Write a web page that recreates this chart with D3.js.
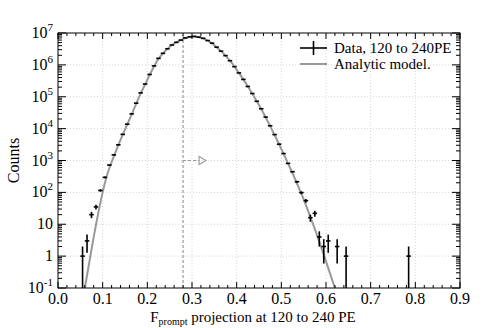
<!DOCTYPE html>
<html>
<head>
<meta charset="utf-8">
<script src="https://cdn.jsdelivr.net/npm/d3@7"></script>
<style>
  body { margin: 0; background: #fff; }
  svg text { font-family: 'Liberation Serif', 'Times New Roman', 'DejaVu Serif', serif; }
</style>
</head>
<body>
<svg id="chart" width="485" height="328"></svg>
<script>
// histogram bin centres (width 0.01) and counts
const binX = [0.055, 0.065, 0.075, 0.085, 0.095, 0.105, 0.115, 0.125, 0.135, 0.145,
  0.155, 0.165, 0.175, 0.185, 0.195, 0.205, 0.215, 0.225, 0.235, 0.245,
  0.255, 0.265, 0.275, 0.285, 0.295, 0.305, 0.315, 0.325, 0.335, 0.345,
  0.355, 0.365, 0.375, 0.385, 0.395, 0.405, 0.415, 0.425, 0.435, 0.445,
  0.455, 0.465, 0.475, 0.485, 0.495, 0.505, 0.515, 0.525, 0.535, 0.545,
  0.555, 0.565, 0.575, 0.585, 0.595, 0.605, 0.625, 0.645, 0.785];
const counts = [1, 3, 20, 35, 115, 295, 720, 1500, 3100, 6600,
  13800, 29000, 63000, 132000, 250000, 500000, 930000, 1.6e6, 2.3e6, 3.2e6,
  4.2e6, 5.1e6, 6.0e6, 7.0e6, 7.6e6, 7.8e6, 7.4e6, 6.8e6, 5.8e6, 4.8e6,
  3.6e6, 2.7e6, 1.95e6, 1.35e6, 880000, 560000, 350000, 210000, 126000, 72000,
  42000, 23000, 12300, 6500, 3250, 1650, 810, 445, 215, 98,
  55, 16, 22, 4, 2, 3, 2, 1, 1];

// analytic model curve
const modelX = [0.060, 0.070, 0.080, 0.090, 0.100, 0.110, 0.120, 0.130, 0.135, 0.145,
  0.155, 0.165, 0.175, 0.185, 0.195, 0.205, 0.215, 0.225, 0.235, 0.245,
  0.255, 0.265, 0.275, 0.285, 0.295, 0.305, 0.315, 0.325, 0.335, 0.345,
  0.355, 0.365, 0.375, 0.385, 0.395, 0.405, 0.415, 0.425, 0.435, 0.445,
  0.455, 0.465, 0.475, 0.485, 0.495, 0.505, 0.515, 0.525, 0.535, 0.545,
  0.555, 0.565, 0.575, 0.585, 0.595, 0.605, 0.615, 0.620];
const modelY = [0.1, 0.63, 4.0, 22, 100, 355, 890, 2000, 3000, 6500,
  13500, 28000, 60000, 126000, 240000, 480000, 890000, 1.55e6, 2.3e6, 3.16e6,
  4.2e6, 5.1e6, 6.0e6, 6.9e6, 7.6e6, 7.8e6, 7.4e6, 6.8e6, 5.75e6, 4.7e6,
  3.6e6, 2.7e6, 1.95e6, 1.35e6, 890000, 560000, 350000, 210000, 126000, 72000,
  41000, 22400, 12000, 6300, 3240, 1620, 800, 400, 190, 89,
  40, 16.6, 7.1, 2.8, 1.12, 0.42, 0.16, 0.1];

const xTicks = [0, 0.1, 0.2, 0.3, 0.4, 0.5, 0.6, 0.7, 0.8, 0.9];
const yDecades = [-1, 0, 1, 2, 3, 4, 5, 6, 7];
const cutValue = 0.28;   // dashed cut line
const arrowLevel = 1000;
const legendLabels = ["Data, 120 to 240PE", "Analytic model."];

const serif = "'Liberation Serif', 'Times New Roman', 'DejaVu Serif', serif";
const margin = {left: 58, right: 25, top: 33, bottom: 40};
const W = 485, H = 328;
const svg = d3.select("#chart").attr("font-family", serif);

const x = d3.scaleLinear().domain([0, 0.9]).range([margin.left, W - margin.right]);
const y = d3.scaleLog().domain([0.1, 1e7]).range([H - margin.bottom, margin.top]);
const x0 = x.range()[0], x1 = x.range()[1], y0 = y.range()[0], y1 = y.range()[1];

svg.append("defs").append("clipPath").attr("id", "plot")
  .append("rect").attr("x", x0).attr("y", y1).attr("width", x1 - x0).attr("height", y0 - y1);

// grid
const grid = svg.append("g").attr("stroke", "#ccc").attr("stroke-dasharray", "1,2").attr("stroke-width", 0.8);
grid.selectAll(".gx").data(xTicks.slice(1, -1)).join("line")
  .attr("x1", d => x(d)).attr("x2", d => x(d)).attr("y1", y0).attr("y2", y1);
grid.selectAll(".gy").data(yDecades.slice(1, -1)).join("line")
  .attr("x1", x0).attr("x2", x1).attr("y1", d => y(10 ** d)).attr("y2", d => y(10 ** d));

const plot = svg.append("g").attr("clip-path", "url(#plot)");

// cut line + arrow
plot.append("line")
  .attr("x1", x(cutValue)).attr("x2", x(cutValue)).attr("y1", y0).attr("y2", y1)
  .attr("stroke", "#999").attr("stroke-width", 1.2).attr("stroke-dasharray", "3,2");
plot.append("line")
  .attr("x1", x(cutValue)).attr("x2", x(cutValue) + 16).attr("y1", y(arrowLevel)).attr("y2", y(arrowLevel))
  .attr("stroke", "#999").attr("stroke-width", 1.2).attr("stroke-dasharray", "3,2");
const ax = x(cutValue) + 16, ay = y(arrowLevel);
plot.append("path")
  .attr("d", `M${ax},${ay - 4}L${ax + 7},${ay}L${ax},${ay + 4}Z`)
  .attr("fill", "none").attr("stroke", "#999").attr("stroke-width", 1.1);

// model
const model = modelX.map((v, i) => [v, modelY[i]]);
plot.append("path")
  .datum(model)
  .attr("fill", "none").attr("stroke", "#999").attr("stroke-width", 2)
  .attr("d", d3.line().x(d => x(d[0])).y(d => y(d[1])).curve(d3.curveMonotoneX));

// data with poisson errors
const data = binX.map((v, i) => ({x: v, n: counts[i]}));
const pts = plot.append("g").attr("stroke", "#000").attr("stroke-width", 1.6);
pts.selectAll(".eb").data(data).join("line")
  .attr("x1", d => x(d.x)).attr("x2", d => x(d.x))
  .attr("y1", d => y(Math.max(d.n - Math.sqrt(d.n), 0.05)))
  .attr("y2", d => y(d.n + Math.sqrt(d.n)));
pts.selectAll(".hb").data(data).join("line")
  .attr("x1", d => x(d.x - 0.005)).attr("x2", d => x(d.x + 0.005))
  .attr("y1", d => y(d.n)).attr("y2", d => y(d.n));

// frame and ticks
const axes = svg.append("g").attr("stroke", "#000").attr("stroke-width", 1);
axes.append("rect").attr("x", x0).attr("y", y1).attr("width", x1 - x0).attr("height", y0 - y1).attr("fill", "none");
const xMinor = d3.range(0, 46).map(i => i * 0.02).filter(v => v <= 0.9);
const isMajor = d => Math.abs(d * 10 - Math.round(d * 10)) < 1e-6;
axes.selectAll(".xt").data(xMinor).join("line")
  .attr("x1", d => x(d)).attr("x2", d => x(d))
  .attr("y1", y0).attr("y2", d => y0 - (isMajor(d) ? 6 : 3));
axes.selectAll(".xtt").data(xMinor).join("line")
  .attr("x1", d => x(d)).attr("x2", d => x(d))
  .attr("y1", y1).attr("y2", d => y1 + (isMajor(d) ? 6 : 3));
const yMinor = [];
yDecades.slice(0, -1).forEach(e => { for (let k = 1; k <= 9; k++) yMinor.push({v: k * 10 ** e, major: k === 1}); });
yMinor.push({v: 1e7, major: true});
axes.selectAll(".yt").data(yMinor).join("line")
  .attr("x1", x0).attr("x2", d => x0 + (d.major ? 8 : 4))
  .attr("y1", d => y(d.v)).attr("y2", d => y(d.v));
axes.selectAll(".ytr").data(yMinor).join("line")
  .attr("x1", x1).attr("x2", d => x1 - (d.major ? 8 : 4))
  .attr("y1", d => y(d.v)).attr("y2", d => y(d.v));

// tick labels
svg.append("g").selectAll("text").data(xTicks).join("text")
  .attr("x", d => x(d)).attr("y", y0 + 16)
  .attr("text-anchor", "middle").attr("font-size", 16)
  .text(d => d.toFixed(1));
const yl = svg.append("g").attr("font-size", 16).attr("text-anchor", "end");
yDecades.forEach(e => {
  const t = yl.append("text").attr("x", x0 - 5).attr("y", y(10 ** e) + 5);
  if (e === 0) t.text("1");
  else if (e === 1) t.text("10");
  else {
    t.append("tspan").text("10");
    t.append("tspan").attr("font-size", 11).attr("dy", -7).text(e);
  }
});

// axis titles
const xt = svg.append("text").attr("x", 253).attr("y", 322).attr("text-anchor", "middle").attr("font-size", 15);
xt.append("tspan").text("F");
xt.append("tspan").attr("font-size", 10).attr("dy", 3).text("prompt");
xt.append("tspan").attr("dy", -3).text(" projection at 120 to 240 PE");
svg.append("text").attr("transform", `translate(19,${(y0 + y1) / 2}) rotate(-90)`)
  .attr("text-anchor", "middle").attr("font-size", 16).text("Counts");

// legend
const lg = svg.append("g").attr("font-size", 15);
lg.append("line").attr("x1", 300).attr("x2", 327).attr("y1", 48).attr("y2", 48).attr("stroke", "#000").attr("stroke-width", 1.6);
lg.append("line").attr("x1", 313.5).attr("x2", 313.5).attr("y1", 41).attr("y2", 55).attr("stroke", "#000").attr("stroke-width", 1.6);
lg.append("line").attr("x1", 300).attr("x2", 327).attr("y1", 64).attr("y2", 64).attr("stroke", "#999").attr("stroke-width", 2);
lg.selectAll("text").data(legendLabels).join("text")
  .attr("x", 334).attr("y", (d, i) => 53 + i * 16).text(d => d);
</script>
</body>
</html>
